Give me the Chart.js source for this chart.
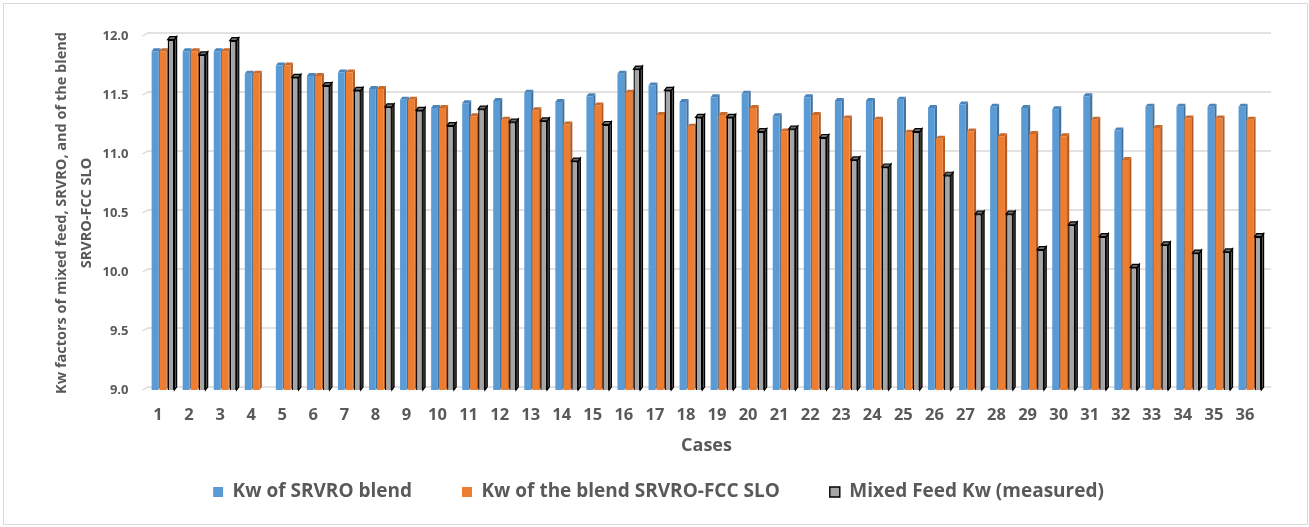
<!DOCTYPE html>
<html>
<head>
<meta charset="utf-8">
<script src="https://cdn.jsdelivr.net/npm/chart.js@4/dist/chart.umd.min.js"></script>
<style>
  html, body { margin: 0; padding: 0; background: #ffffff; }
  #wrap { position: relative; width: 1309px; height: 527px; }
</style>
</head>
<body>
<div id="wrap"><canvas id="c"></canvas></div>
<script>
// Case numbers along the category axis
const cases = ['1','2','3','4','5','6','7','8','9','10','11','12','13','14','15','16','17','18',
               '19','20','21','22','23','24','25','26','27','28','29','30','31','32','33','34','35','36'];

// Kw of the SRVRO blend
const kwSrvroBlend = [11.87, 11.87, 11.87, 11.68, 11.75, 11.66, 11.69, 11.55, 11.46, 11.39, 11.43, 11.45,
                      11.52, 11.44, 11.49, 11.68, 11.58, 11.44, 11.48, 11.51, 11.32, 11.48, 11.45, 11.45,
                      11.46, 11.39, 11.42, 11.40, 11.39, 11.38, 11.49, 11.20, 11.40, 11.40, 11.40, 11.40];

// Kw of the blend SRVRO-FCC SLO
const kwBlendSrvroFccSlo = [11.87, 11.87, 11.87, 11.68, 11.75, 11.66, 11.69, 11.55, 11.46, 11.39, 11.32, 11.29,
                            11.37, 11.25, 11.41, 11.52, 11.33, 11.23, 11.33, 11.39, 11.19, 11.33, 11.30, 11.29,
                            11.18, 11.13, 11.19, 11.15, 11.17, 11.15, 11.29, 10.95, 11.22, 11.30, 11.30, 11.29];

// Measured Kw of the mixed feed (case 4 was not measured)
const mixedFeedKw = [11.97, 11.84, 11.96, null, 11.65, 11.58, 11.54, 11.40, 11.37, 11.24, 11.38, 11.27,
                     11.28, 10.94, 11.25, 11.72, 11.54, 11.31, 11.31, 11.19, 11.21, 11.14, 10.95, 10.89,
                     11.19, 10.82, 10.49, 10.49, 10.19, 10.40, 10.30, 10.04, 10.23, 10.16, 10.17, 10.30];

// Value axis range and tick step
const yMin = 9.0;
const yMax = 12.0;
const yStep = 0.5;

const seriesNames = ['Kw of SRVRO blend', 'Kw of the blend SRVRO-FCC SLO', 'Mixed Feed Kw (measured)'];

const textColor = '#595959';
const fontFamily = "'Open Sans', 'DejaVu Sans', sans-serif";

// Colours for the front, side and top faces of each column series
const faces = [
  { front: '#5b9bd5', side: '#41719c', top: '#4a84bb', edge: null },
  { front: '#ed7d31', side: '#b35b22', top: '#c9692a', edge: null },
  { front: '#a5a5a5', side: '#555555', top: '#6f6f6f', edge: '#000000' }
];

const depth = { dx: 2.2, dy: 3 };      // column depth offset
const wall = { dx: 5.5, dy: 3 };       // back-wall offset of the gridlines

// Back-wall gridlines, the outer frame and the 3D side/top faces of the columns
const pseudo3d = {
  id: 'pseudo3d',
  beforeDraw(chart) {
    const ctx = chart.ctx;
    ctx.save();
    ctx.fillStyle = '#ffffff';
    ctx.fillRect(0, 0, chart.width, chart.height);
    ctx.strokeStyle = '#d9d9d9';
    ctx.lineWidth = 1;
    ctx.strokeRect(3.5, 3.5, chart.width - 5, chart.height - 6);
    ctx.restore();
  },
  beforeDatasetsDraw(chart) {
    const ctx = chart.ctx;
    const area = chart.chartArea;
    const ys = chart.scales.y;
    ctx.save();
    ctx.strokeStyle = '#d9d9d9';
    ctx.lineWidth = 1.4;
    ys.ticks.forEach(t => {
      const yf = ys.getPixelForValue(t.value);
      ctx.beginPath();
      ctx.moveTo(area.left - 5, yf);
      ctx.lineTo(area.left + 0.5, yf - wall.dy);
      ctx.lineTo(area.right + wall.dx, yf - wall.dy);
      ctx.stroke();
    });

    chart.data.datasets.forEach((ds, di) => {
      const meta = chart.getDatasetMeta(di);
      const f = faces[di];
      meta.data.forEach((el, i) => {
        if (ds.data[i] === null || ds.data[i] === undefined) return;
        const l = el.x - el.width / 2;
        const r = el.x + el.width / 2;
        const top = el.y;
        const bottom = Math.min(el.base, area.bottom);
        // side face
        ctx.beginPath();
        ctx.moveTo(r, top);
        ctx.lineTo(r + depth.dx, top - depth.dy);
        ctx.lineTo(r + depth.dx, bottom - depth.dy);
        ctx.lineTo(r, bottom);
        ctx.closePath();
        ctx.fillStyle = f.side;
        ctx.fill();
        if (f.edge) { ctx.strokeStyle = f.edge; ctx.lineWidth = 1.2; ctx.stroke(); }
        // top face
        ctx.beginPath();
        ctx.moveTo(l, top);
        ctx.lineTo(l + depth.dx, top - depth.dy);
        ctx.lineTo(r + depth.dx, top - depth.dy);
        ctx.lineTo(r, top);
        ctx.closePath();
        ctx.fillStyle = f.top;
        ctx.fill();
        if (f.edge) { ctx.strokeStyle = f.edge; ctx.lineWidth = 1.2; ctx.stroke(); }
      });
    });
    ctx.restore();
  }
};

const seriesValues = [kwSrvroBlend, kwBlendSrvroFccSlo, mixedFeedKw];

new Chart(document.getElementById('c'), {
  type: 'bar',
  data: {
    labels: cases,
    datasets: seriesValues.map((vals, i) => ({
      label: seriesNames[i],
      data: vals,
      backgroundColor: faces[i].front,
      borderColor: faces[i].edge || faces[i].front,
      borderWidth: faces[i].edge ? 1.4 : 0,
      borderSkipped: false,
      categoryPercentage: 0.773,
      barPercentage: 0.85
    }))
  },
  options: {
    responsive: true,
    maintainAspectRatio: false,
    animation: false,
    events: [],
    layout: { padding: { top: 36, right: 43.5, bottom: 15.5, left: 51.5 } },
    scales: {
      x: {
        grid: { display: false, drawTicks: false },
        border: { display: false },
        ticks: {
          color: textColor,
          padding: 15,
          labelOffset: -5,
          maxRotation: 0,
          autoSkip: false,
          font: { family: fontFamily, size: 16.5, weight: 'bold' }
        },
        title: {
          display: true,
          text: 'Cases',
          color: textColor,
          font: { family: fontFamily, size: 18, weight: 'bold' },
          padding: { top: 0, bottom: -24.3 }
        },
        afterFit(scale) { scale.height = 42.5; }
      },
      y: {
        min: yMin,
        max: yMax,
        grid: { display: false, drawTicks: false },
        border: { display: false },
        ticks: {
          stepSize: yStep,
          color: textColor,
          padding: 19,
          font: { family: fontFamily, size: 13, weight: 'bold' },
          callback: v => Number(v).toFixed(1)
        },
        title: {
          display: true,
          text: ['Kw factors of mixed feed, SRVRO, and of the blend', 'SRVRO-FCC SLO'],
          color: textColor,
          font: { family: fontFamily, size: 14.5, weight: 'bold', lineHeight: 1.7 },
          padding: { top: -1.5, bottom: 0 }
        },
        afterFit(scale) { scale.width = 96; }
      }
    },
    plugins: {
      legend: {
        position: 'bottom',
        labels: {
          color: textColor,
          boxWidth: 10,
          boxHeight: 10,
          padding: 50,
          font: { family: fontFamily, size: 19, weight: 'bold' }
        }
      },
      tooltip: { enabled: false }
    }
  },
  plugins: [pseudo3d]
});
</script>
</body>
</html>
